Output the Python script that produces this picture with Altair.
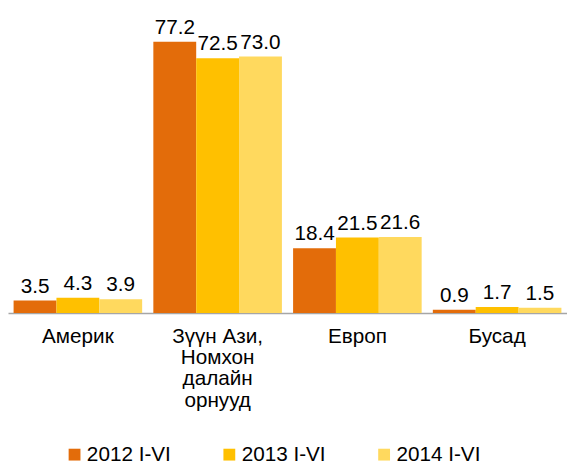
import altair as alt
import pandas as pd

categories = ["Америк", "Зүүн Ази,\nНомхон\nдалайн\nорнууд", "Европ", "Бусад"]
series = ["2012 I-VI", "2013 I-VI", "2014 I-VI"]
v2012 = [3.5, 77.2, 18.4, 0.9]
v2013 = [4.3, 72.5, 21.5, 1.7]
v2014 = [3.9, 73.0, 21.6, 1.5]
colors = ["#E36C0A", "#FFC000", "#FFD95E"]

rows = []
for s, vals in zip(series, [v2012, v2013, v2014]):
    for c, v in zip(categories, vals):
        rows.append({"cat": c, "series": s, "value": v, "label": f"{v:.1f}"})
df = pd.DataFrame(rows)

FONT = "Liberation Sans, Arial, sans-serif"

x = alt.X("cat:N", sort=categories, title=None,
          scale=alt.Scale(paddingInner=0.08, paddingOuter=0.04),
          axis=alt.Axis(labelAngle=0, labelFontSize=21, labelFont=FONT, labelColor="#000000",
                        labelExpr="split(datum.label, '\\n')", labelLineHeight=21.5,
                        labelPadding=13, ticks=False, domainColor="#A6A6A6", domainWidth=1.5,
                        labelBaseline="top"))
xo = alt.XOffset("series:N", sort=series, scale=alt.Scale(paddingInner=0, paddingOuter=0))
y = alt.Y("value:Q", scale=alt.Scale(domain=[0, 80], nice=False), axis=None)

base = alt.Chart(df)
bars = base.mark_bar().encode(
    x=x, xOffset=xo, y=y,
    color=alt.Color("series:N", sort=series, scale=alt.Scale(domain=series, range=colors),
                    legend=alt.Legend(title=None, orient="none", direction="horizontal",
                                      legendX=57, legendY=418, symbolType="square",
                                      symbolSize=144, symbolStrokeWidth=0, labelFontSize=21,
                                      labelFont=FONT, labelColor="#000000", labelOffset=2,
                                      columnPadding=48))
)
texts = base.mark_text(dy=-8, fontSize=21, font=FONT, color="#000000", baseline="alphabetic").encode(
    x=x, xOffset=xo, y=y, text="label:N"
)

chart = (bars + texts).properties(
    width=567, height=285,
    autosize=alt.AutoSizeParams(type="none"),
    padding={"top": 21, "left": 0, "right": 0, "bottom": 152},
).configure_view(stroke=None)

chart.save("out.html", embed_options={"renderer": "svg", "actions": False})
